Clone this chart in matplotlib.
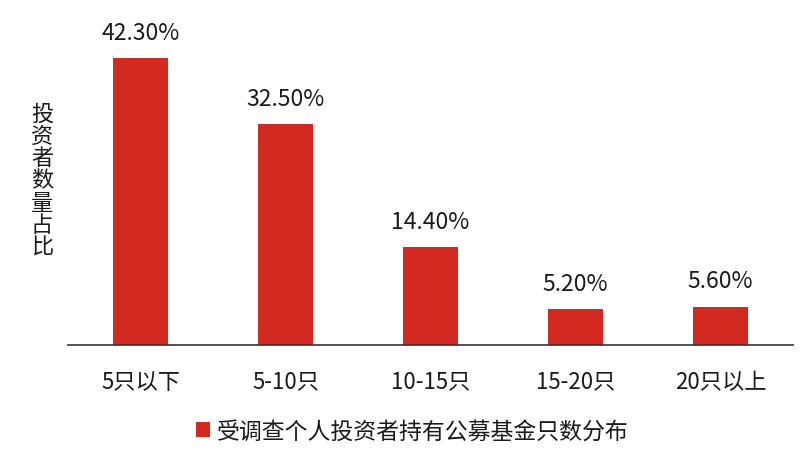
import matplotlib
matplotlib.use('Agg')
import matplotlib.pyplot as plt

plt.rcParams['font.family'] = ['Noto Sans CJK SC', 'DejaVu Sans']

categories = ['5只以下', '5-10只', '10-15只', '15-20只', '20只以上']
values = [42.3, 32.5, 14.4, 5.2, 5.6]
labels = ['42.30%', '32.50%', '14.40%', '5.20%', '5.60%']
series_name = '受调查个人投资者持有公募基金只数分布'
ylabel = '投资者数量占比'

bar_color = '#d22a20'
text_color = '#1a1a1a'

fig = plt.figure(figsize=(8.01, 4.6), dpi=100)
# axes placed in pixel terms: x 68..793, baseline at y=345.7 from top
ax = fig.add_axes([68 / 801, (460 - 345.7) / 460, (793 - 68) / 801, (345.7 - 20) / 460])

x = range(len(categories))
bars = ax.bar(x, values, width=0.385, color=bar_color, label=series_name)
for b, t in zip(bars, labels):
    ax.text(b.get_x() + b.get_width() / 2, b.get_height() + 2.1, t,
            ha='center', va='bottom', fontsize=16.5, color=text_color)

ax.set_xlim(-0.5, 4.5)
ax.set_ylim(0, 48.04)
ax.set_xticks(list(x))
ax.set_xticklabels(categories, fontsize=16, color=text_color)
ax.tick_params(axis='x', length=0, pad=18)
ax.set_yticks([])
for s in ['top', 'right', 'left']:
    ax.spines[s].set_visible(False)
ax.spines['bottom'].set_color('#333333')
ax.spines['bottom'].set_linewidth(1.2)

# vertical stacked y label
fig.text(42 / 801, 1 - 181 / 460, '\n'.join(ylabel), ha='center', va='center',
         fontsize=16, color=text_color, linespacing=0.95)

fig.legend(handles=[bars], labels=[series_name], loc='center',
           bbox_to_anchor=(412 / 801, 1 - 432 / 460), frameon=False,
           fontsize=16.5, handlelength=0.6, handleheight=0.6, handletextpad=0.3,
           labelcolor=text_color)

fig.savefig('out.png', dpi=100)
